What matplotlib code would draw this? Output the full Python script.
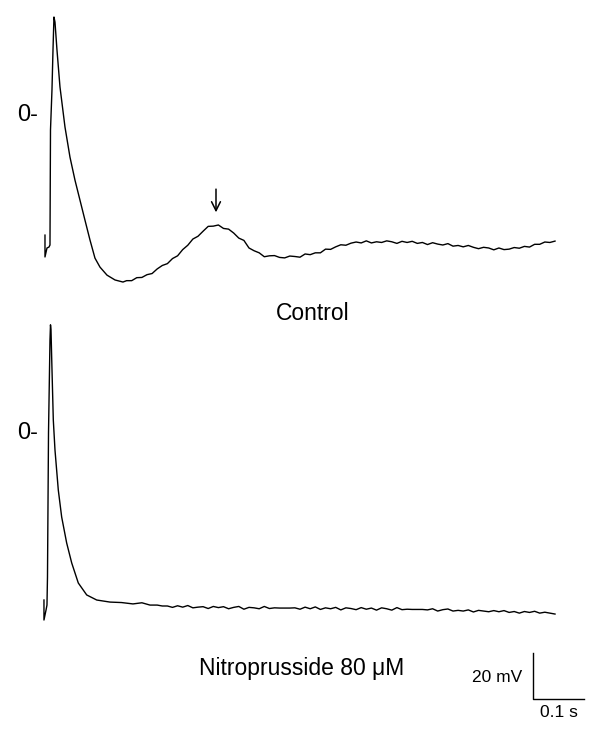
import matplotlib
matplotlib.use("Agg")
import matplotlib.pyplot as plt

plt.rcParams['font.family'] = ['Liberation Sans', 'DejaVu Sans']

# === DATA: membrane potential traces (time in ms, voltage in mV) ===
control_t = [0, 0, 3.9, 7.8, 9.8, 10.8, 13.7, 15.7, 17.6, 19.6, 23.5, 29.4, 39.2, 49.0,
             58.8, 68.6, 78.4, 88.2, 98.0, 107.8, 121.6, 137.3, 152.9,
             160, 170, 180, 190, 200, 210, 220, 230, 240, 250, 260, 270, 280, 290,
             300, 310, 320, 330, 340, 350, 360, 370, 380, 390, 400, 410, 420, 430,
             440, 450, 460, 470, 480, 490, 500, 510, 520, 530, 540, 550, 560, 570,
             580, 590, 600, 610, 620, 630, 640, 650, 660, 670, 680, 690, 700, 710,
             720, 730, 740, 750, 760, 770, 780, 790, 800, 810, 820, 830, 840, 850,
             860, 870, 880, 890, 900, 910, 920, 930, 940, 950, 960, 970, 980, 990, 1000]
control_v = [-52.2, -61.7, -57.8, -57.4, -56.5, -6.5, 10.9, 28.3, 42.6, 40.4, 28.3, 12.2, -5.2, -18.3,
             -28.3, -37.0, -45.7, -54.3, -62.2, -66.1, -69.6, -71.7, -72.6,
             -72.0, -72.0, -70.7, -70.6, -69.4, -68.9, -66.9, -65.4, -64.6, -62.4, -61.2, -58.5, -56.6, -53.9,
             -52.7, -50.5, -48.4, -48.3, -47.8, -49.3, -49.6, -51.3, -53.5, -54.5, -57.8, -59.0, -59.9, -61.6,
             -61.2, -61.1, -61.9, -62.1, -61.3, -61.5, -61.8, -60.4, -60.7, -59.9, -59.9, -58.3, -58.4, -57.3,
             -56.4, -56.6, -55.7, -55.2, -55.6, -54.7, -55.6, -55.1, -55.4, -54.7, -55.1, -55.8, -54.9, -55.4,
             -54.9, -55.8, -55.4, -56.3, -55.5, -56.1, -56.5, -55.9, -57.0, -56.7, -57.3, -56.7, -57.5, -58.1,
             -57.5, -57.8, -58.6, -57.8, -58.5, -58.3, -57.6, -57.9, -57.1, -57.4, -56.2, -56.2, -55.2, -55.4, -54.8]

nitro_t = [-2.0, -2.0, 2.0, 3.9, 4.9, 6.9, 9.8, 10.8, 11.8, 13.1, 16.3, 19.6, 26.1, 32.7,
           42.5, 52.4, 65.3, 81.8, 101.4, 127.5, 150, 172.5, 190, 205.9,
           220, 230, 240, 250, 260, 270, 280, 290, 300, 310, 320, 330, 340, 350,
           360, 370, 380, 390, 400, 410, 420, 430, 440, 450, 460, 470, 480, 490,
           500, 510, 520, 530, 540, 550, 560, 570, 580, 590, 600, 610, 620, 630,
           640, 650, 660, 670, 680, 690, 700, 710, 720, 730, 740, 750, 760, 770,
           780, 790, 800, 810, 820, 830, 840, 850, 860, 870, 880, 890, 900, 910,
           920, 930, 940, 950, 960, 970, 980, 990, 1000]
nitro_v = [-72.6, -81.3, -77.0, -74.8, -62.6, 0.0, 40.4, 47.0, 44.8, 33.0, 5.7, -7.4, -24.8, -36.5,
           -47.8, -56.5, -65.2, -70.4, -72.6, -73.5, -73.7, -74.3, -73.8, -74.8,
           -74.8, -75.2, -75.2, -75.8, -75.1, -75.7, -75.0, -76.0, -75.7, -75.5, -76.3, -75.4, -75.9, -75.5,
           -76.4, -75.8, -75.4, -76.6, -75.8, -76.0, -76.4, -75.4, -76.3, -76.0, -76.1, -76.1, -76.1, -76.0,
           -76.6, -75.7, -76.4, -75.6, -76.7, -76.0, -76.4, -75.8, -76.9, -76.0, -76.3, -76.8, -75.9, -76.6,
           -76.1, -77.0, -76.0, -76.4, -77.0, -75.9, -76.8, -76.6, -76.7, -76.7, -76.7, -76.9, -76.4, -77.4,
           -76.8, -76.5, -77.4, -77.1, -77.4, -76.9, -77.8, -77.1, -77.4, -77.7, -77.2, -77.7, -77.2, -78.0,
           -77.6, -78.3, -77.6, -78.0, -77.5, -78.3, -77.9, -78.3, -78.7]

labels = ["Control", "Nitroprusside 80 \u03bcM"]
scale_mv = 20
scale_ms = 100
arrow_t = 335.3  # peak of the late depolarisation (arrow)

# === FIGURE ===
fig = plt.figure(figsize=(6, 7.33), dpi=100)
ax1 = fig.add_axes([0, 413 / 733, 1, 320 / 733])
ax2 = fig.add_axes([0, 0, 1, 413 / 733])

ax1.plot(control_t, control_v, color='black', lw=1.0)
ax2.plot(nitro_t, nitro_v, color='black', lw=1.0)

ax1.set_xlim(-88.2, 1088.2)
ax1.set_ylim(-89.1, 50.0)
ax2.set_xlim(-88.2, 1088.2)
ax2.set_ylim(-130.4, 49.1)
for ax in (ax1, ax2):
    ax.axis('off')
    ax.text(-54.9, 0, "0-", fontsize=17, ha='left', va='center')

# arrow over the hump
ax1.annotate("", xy=(arrow_t, -43.5), xytext=(arrow_t, -31.0),
             arrowprops=dict(arrowstyle='->', color='black', lw=1.1,
                             mutation_scale=16))

ax1.text(525.5, -86.1, labels[0], fontsize=16.5, ha='center', va='center')
ax2.text(503.9, -102.2, labels[1], fontsize=16.5, ha='center', va='center')

# scale bar
x0, y0 = 956.9, -115.7
ax2.plot([x0, x0, x0 + scale_ms], [y0 + scale_mv, y0, y0], color='black', lw=1.0)
ax2.text(x0 - 21.6, y0 + 9.6, f"{scale_mv} mV", fontsize=12.5, ha='right', va='center')
ax2.text(x0 + scale_ms / 2, y0 - 5.6, f"{scale_ms / 1000:.1f} s", fontsize=12.5,
         ha='center', va='center')

fig.savefig("out.png", dpi=100)
